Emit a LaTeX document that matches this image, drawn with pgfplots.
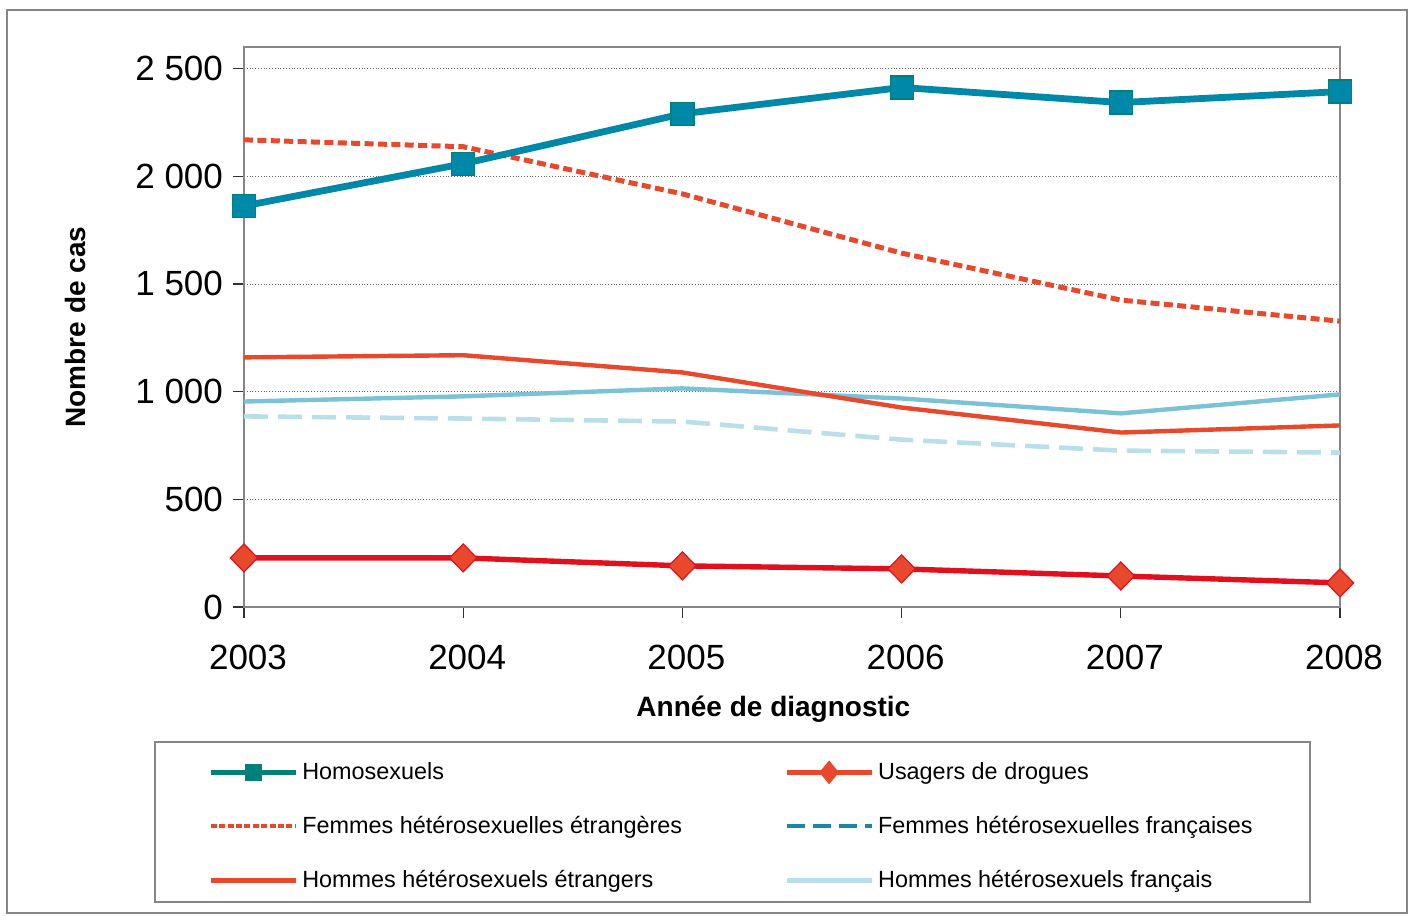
\documentclass[border=0pt]{standalone}
\usepackage{fontspec}
\setmainfont{Liberation Sans}
\usepackage{pgfplots}
\pgfplotsset{compat=1.18}
\usetikzlibrary{plotmarks}
\definecolor{homo}{HTML}{0088A8}
\definecolor{homoedge}{HTML}{00807A}
\definecolor{rouge}{HTML}{E8482C}
\definecolor{rougefonce}{HTML}{E0101E}
\definecolor{bleuclair}{HTML}{7CC2D6}
\definecolor{bleutresclair}{HTML}{B9DFEA}
\definecolor{bleulegende}{HTML}{1A86AA}
\definecolor{cadre}{HTML}{868686}
\begin{document}
\begin{tikzpicture}
\useasboundingbox (-122pt,-154pt) rectangle (583.5pt,303.5pt);
\begin{axis}[
  scale only axis, width=548pt, height=280pt,
  xmin=2003, xmax=2008, ymin=0, ymax=2600,
  xtick={2003,2004,2005,2006,2007,2008},
  xticklabels={2003,2004,2005,2006,2007,2008},
  ytick={0,500,1000,1500,2000,2500},
  yticklabels={0,500,1 000,1 500,2 000,2 500},
  tick label style={font=\fontsize{17.5}{20}\selectfont},
  xticklabel style={yshift=-10pt, xshift=2pt},
  yticklabel style={xshift=-1.5pt},
  xtick pos=lower, ytick pos=left,
  tick align=outside, major tick length=5.5pt,
  axis line style={draw=cadre, line width=0.8pt},
  tick style={draw=black!80, line width=0.6pt},
  ymajorgrids, grid style={densely dotted, draw=black!60, line width=0.4pt},
  xlabel={\bfseries Année de diagnostic},
  ylabel={\bfseries Nombre de cas},
  label style={font=\fontsize{14}{16}\selectfont},
  xlabel style={at={(axis description cs:0.483,-0.1821)}, anchor=center},
  ylabel style={at={(axis description cs:-0.154,0.5)}, anchor=center},
  legend columns=2,
  legend cell align=left,
  legend image code/.code={
    \draw[mark repeat=2,mark phase=2,#1] plot coordinates {(0pt,0pt) (21.25pt,0pt) (42.5pt,0pt)};
  },
  legend style={draw=none, fill=none, inner sep=0pt,
    at={(axis description cs:-0.0329,-0.2696)}, anchor=north west,
    font=\fontsize{11.7}{13}\selectfont,
    row sep=13pt,
    nodes={inner sep=2pt},
    /tikz/every even column/.append style={column sep=49pt}},
]
\addplot[forget plot, color=bleutresclair, line width=2.3pt, dash pattern=on 12pt off 5pt] coordinates {
(2003,885) (2004,875) (2005,861) (2006,777) (2007,726) (2008,717)};
\addplot[forget plot, color=bleuclair, line width=2.2pt] coordinates {
(2003,954) (2004,978) (2005,1015) (2006,968) (2007,899) (2008,987)};
\addplot[forget plot, color=rouge, line width=2.2pt] coordinates {
(2003,1159) (2004,1169) (2005,1089) (2006,926) (2007,810) (2008,843)};
\addplot[forget plot, color=rouge, line width=2.5pt, dash pattern=on 4.5pt off 2.2pt] coordinates {
(2003,2169) (2004,2137) (2005,1918) (2006,1643) (2007,1425) (2008,1327)};
\addplot[forget plot, color=rougefonce, line width=2.7pt, mark=diamond*, mark size=7pt,
  mark options={solid, fill=rouge, draw=rougefonce, line width=0.6pt, xscale=1.3}] coordinates {
(2003,228) (2004,228) (2005,191) (2006,177) (2007,144) (2008,112)};
\addplot[forget plot, color=homo, line width=3.4pt, mark=square*, mark size=5.75pt,
  mark options={solid, fill=homo, draw=homoedge, line width=0.6pt}] coordinates {
(2003,1862) (2004,2058) (2005,2290) (2006,2412) (2007,2342) (2008,2393)};
% legend
\addlegendimage{color=homoedge, line width=2.5pt, mark=square*, mark size=3pt, mark options={solid, fill=homoedge}}
\addlegendentry{Homosexuels}
\addlegendimage{color=rouge, line width=2.5pt, mark=diamond*, mark size=4pt, mark options={solid, fill=rouge, xscale=1.1}}
\addlegendentry{Usagers de drogues}
\addlegendimage{color=rouge, line width=2pt, dash pattern=on 3pt off 1.2pt}
\addlegendentry{Femmes hétérosexuelles étrangères}
\addlegendimage{color=bleulegende, line width=2pt, dash pattern=on 9pt off 4pt}
\addlegendentry{Femmes hétérosexuelles françaises}
\addlegendimage{color=rouge, line width=2.2pt}
\addlegendentry{Hommes hétérosexuels étrangers}
\addlegendimage{color=bleutresclair, line width=2.5pt}
\addlegendentry{Hommes hétérosexuels français}
\end{axis}
\draw[draw=cadre, line width=1pt] (-118.5pt,-153pt) rectangle (581.5pt,298.5pt);
\draw[draw=cadre, line width=0.6pt] (-44.5pt,-147.5pt) rectangle (533pt,-67.5pt);
\end{tikzpicture}
\end{document}
